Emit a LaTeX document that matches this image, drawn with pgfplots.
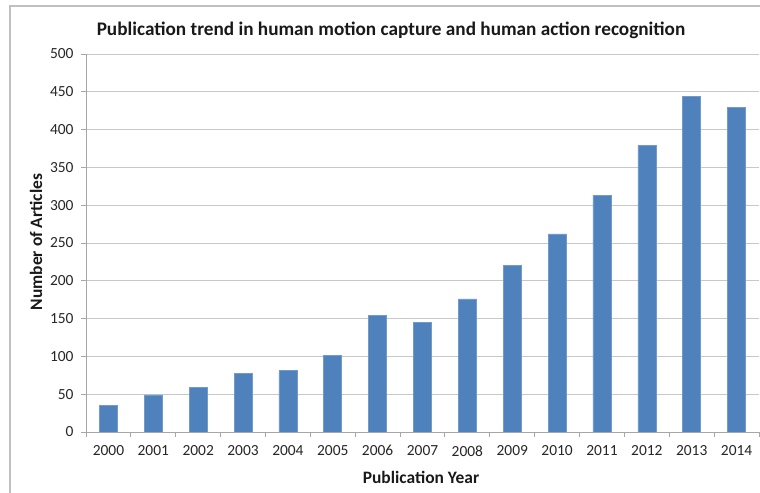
\documentclass[border=0pt]{standalone}
\usepackage{pgfplots}
\pgfplotsset{compat=1.18}
\usepackage{fontspec}
\setmainfont{Carlito}
\definecolor{barblue}{HTML}{4F81BD}
\definecolor{gridgray}{HTML}{C8C8C8}
\definecolor{framegray}{HTML}{C0C0C0}
\definecolor{axisgray}{HTML}{A6A6A6}
\begin{document}
\begin{tikzpicture}[x=1bp,y=1bp]
\useasboundingbox (0,0) rectangle (760,493);
\draw[framegray, line width=1.3bp] (10,0) -- (10,487) -- (760,487);
\begin{axis}[
  at={(86bp,61bp)}, anchor=south west,
  scale only axis, width=673bp, height=378bp,
  xmin=-0.5, xmax=14.5, ymin=0, ymax=500,
  ytick={0,50,...,500},
  ymajorgrids, grid style={gridgray, line width=0.9bp},
  axis x line*=bottom, axis y line*=left,
  axis line style={axisgray, line width=0.9bp, -},
  tick style={axisgray, line width=0.9bp},
  tick align=outside, major tick length=5bp,
  xtick={-0.5,0.5,...,14.5}, xticklabels={},
  extra x ticks={0,1,...,14},
  extra x tick labels={2000,2001,2002,2003,2004,2005,2006,2007,2008,2009,2010,2011,2012,2013,2014},
  extra x tick style={major tick length=0pt, grid=none},
  /pgf/number format/assume math mode=true,
  tick label style={font=\fontsize{15.5}{17}\selectfont, text=black!85},
  yticklabel style={xshift=-4bp},
  xticklabel style={yshift=-10bp},
]
\addplot[ybar, bar width=18bp, fill=barblue, draw=barblue!80!white, line width=0.6bp, bar shift=0pt]
  coordinates {(0,35) (1,49) (2,59) (3,77) (4,81) (5,101) (6,154) (7,145) (8,176) (9,220) (10,262) (11,313) (12,379) (13,444) (14,429)};
\end{axis}
\node[font=\bfseries\fontsize{19.3}{22}\selectfont, text=black!90] at (391,463) {Publication trend in human motion capture and human action recognition};
\node[font=\bfseries\fontsize{17.5}{20}\selectfont, text=black!90] at (421,16) {Publication Year};
\node[font=\bfseries\fontsize{17.5}{20}\selectfont, text=black!90, rotate=90] at (36,251) {Number of Articles};
\end{tikzpicture}
\end{document}
